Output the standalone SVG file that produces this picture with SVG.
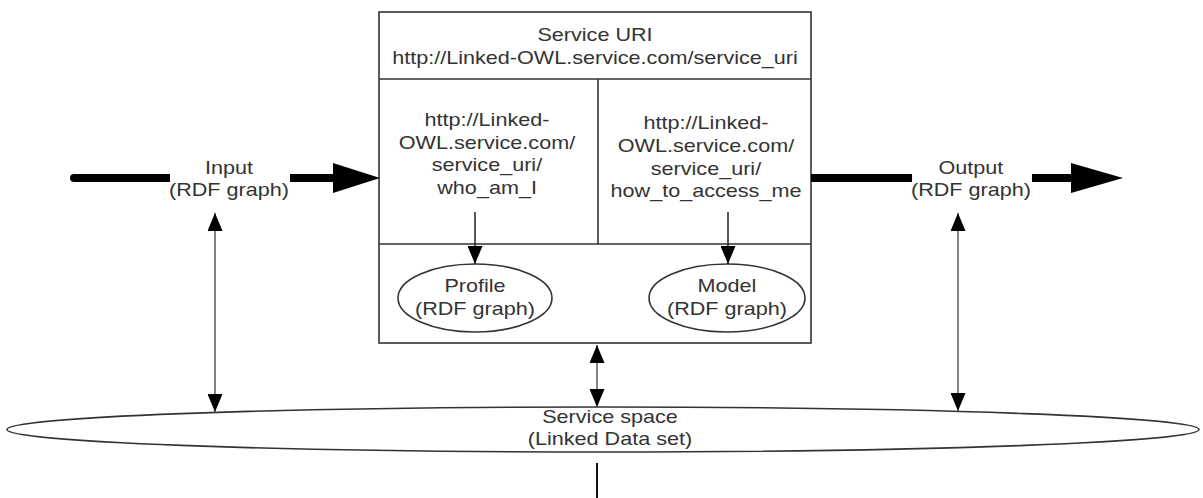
<svg xmlns="http://www.w3.org/2000/svg" width="1203" height="498" viewBox="0 0 1203 498">
  <style>
    .t { font-family: "Liberation Sans", Arial, sans-serif; font-size: 18px; fill: #333; text-anchor: middle; transform-box: fill-box; transform-origin: center; transform: scaleX(1.2); }
    .shape { fill: #fff; stroke: #333; stroke-width: 1.6; }
    .thin { stroke: #222; stroke-width: 1.5; fill: none; }
    .grey { stroke: #666; stroke-width: 1.6; fill: none; }
    .thick { stroke: #000; stroke-width: 8; fill: none; }
    .head { fill: #000; }
  </style>
  <defs>
    <marker id="ah" viewBox="0 0 18 15" refX="18" refY="7.5" markerWidth="18" markerHeight="15" markerUnits="userSpaceOnUse" orient="auto-start-reverse">
      <path d="M0,0 L18,7.5 L0,15 z" fill="#000"/>
    </marker>
  </defs>
  <rect width="1203" height="498" fill="#fff"/>

  <g id="service-space">
    <ellipse class="shape" cx="603" cy="429.5" rx="596" ry="22.5"/>
    <text class="t" x="610" y="423">Service space</text>
    <text class="t" x="610" y="445">(Linked Data set)</text>
  </g>

  <g id="service-box">
    <rect class="shape" x="379" y="12" width="432" height="331"/>
    <line class="shape" x1="379" y1="79" x2="811" y2="79"/>
    <line class="shape" x1="379" y1="244" x2="811" y2="244"/>
    <line class="shape" x1="598" y1="79" x2="598" y2="244"/>
  </g>

  <g id="service-uri">
    <text class="t" x="595" y="41">Service URI</text>
    <text class="t" x="595" y="64">http://Linked-OWL.service.com/service_uri</text>
  </g>

  <g id="who-am-i">
    <text class="t" x="487" y="126">http://Linked-</text>
    <text class="t" x="487" y="149">OWL.service.com/</text>
    <text class="t" x="487" y="171">service_uri/</text>
    <text class="t" x="487" y="194">who_am_I</text>
  </g>

  <g id="how-to-access-me">
    <text class="t" x="706" y="129">http://Linked-</text>
    <text class="t" x="706" y="152">OWL.service.com/</text>
    <text class="t" x="706" y="175">service_uri/</text>
    <text class="t" x="706" y="197">how_to_access_me</text>
  </g>

  <g id="profile">
    <ellipse class="shape" cx="475" cy="298" rx="77" ry="34"/>
    <text class="t" x="475" y="292">Profile</text>
    <text class="t" x="475" y="315">(RDF graph)</text>
  </g>

  <g id="model">
    <ellipse class="shape" cx="727" cy="298" rx="78" ry="34"/>
    <text class="t" x="727" y="292">Model</text>
    <text class="t" x="727" y="315">(RDF graph)</text>
  </g>

  <g id="input">
    <text class="t" x="229" y="174">Input</text>
    <text class="t" x="229" y="196">(RDF graph)</text>
  </g>

  <g id="output">
    <text class="t" x="971" y="174">Output</text>
    <text class="t" x="971" y="196">(RDF graph)</text>
  </g>

  <g id="connectors">
    <!-- input thick arrow -->
    <line class="thick" x1="74" y1="178" x2="170" y2="178"/>
    <circle cx="74" cy="178" r="4" fill="#000"/>
    <line class="thick" x1="290" y1="178" x2="335" y2="178"/>
    <polygon class="head" points="333,163 380,178 333,193"/>
    <!-- output thick arrow -->
    <line class="thick" x1="811" y1="178" x2="912" y2="178"/>
    <line class="thick" x1="1032" y1="178" x2="1073" y2="178"/>
    <polygon class="head" points="1071,163 1123,178 1071,193"/>
    <!-- text to ellipses -->
    <line class="thin" x1="475" y1="212" x2="475" y2="264" marker-end="url(#ah)"/>
    <line class="thin" x1="728" y1="212" x2="728" y2="264" marker-end="url(#ah)"/>
    <!-- double arrows to service space -->
    <line class="grey" x1="215" y1="213" x2="215" y2="412" marker-start="url(#ah)" marker-end="url(#ah)"/>
    <line class="grey" x1="597" y1="345" x2="597" y2="407" marker-start="url(#ah)" marker-end="url(#ah)"/>
    <line class="grey" x1="958" y1="213" x2="958" y2="411" marker-start="url(#ah)" marker-end="url(#ah)"/>
    <!-- line below service space -->
    <line stroke="#111" stroke-width="2" x1="597" y1="463" x2="597" y2="498"/>
  </g>
</svg>
